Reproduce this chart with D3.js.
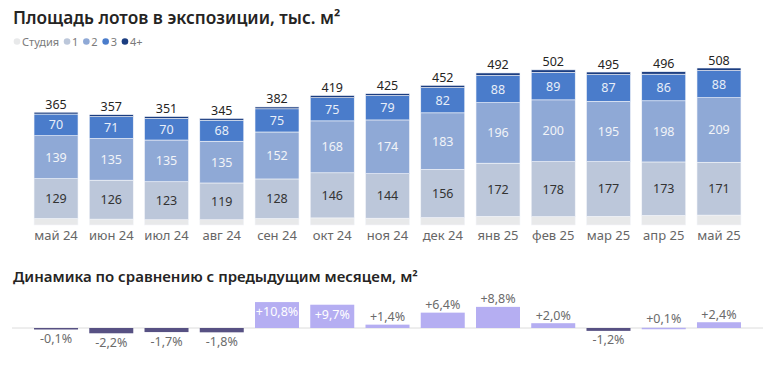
<!DOCTYPE html>
<html><head><meta charset="utf-8">
<script src="https://cdn.jsdelivr.net/npm/d3@7"></script>
<style>
html,body{margin:0;padding:0;background:#fff;}
svg{display:block;font-family:"Segoe UI","Noto Sans","Open Sans",sans-serif;}
</style></head>
<body><svg id="c" width="777" height="372"></svg>
<script>
const months = ["май 24","июн 24","июл 24","авг 24","сен 24","окт 24","ноя 24","дек 24","янв 25","фев 25","мар 25","апр 25","май 25"];
const studio = [21,19,17,17,21,23,22,24,28,27,28,31,32];
const room1 = [129,126,123,119,128,146,144,156,172,178,177,173,171];
const room2 = [139,135,135,135,152,168,174,183,196,200,195,198,209];
const room3 = [70,71,70,68,75,75,79,82,88,89,87,86,88];
const room4 = [6,6,6,6,6,7,6,7,8,8,8,8,8];
const totals = [365,357,351,345,382,419,425,452,492,502,495,496,508];
const change = [-0.1,-2.2,-1.7,-1.8,10.8,9.7,1.4,6.4,8.8,2.0,-1.2,0.1,2.4];
const seriesNames = ["Студия","1","2","3","4+"];
const seriesColors = ["#e8e9ea","#bcc7da","#8fa9d6","#4a7ccb","#1b3d80"];

const svg = d3.select("#c");
const x = d3.scaleBand().domain(months).range([28.5,746.5]).paddingInner(0.2036).paddingOuter(0.1);
const y = d3.scaleLinear().domain([0,520]).range([225,64.3]);

// Title
svg.append("text").attr("x",13).attr("y",24).attr("font-size",17.3).attr("font-weight",600).attr("fill","#252423")
  .text("Площадь лотов в экспозиции, тыс. м²");

// Legend
let lx = 17;
const lg = svg.append("g");
seriesNames.forEach((n,i)=>{
  lg.append("circle").attr("cx",lx).attr("cy",41.5).attr("r",3.3).attr("fill",seriesColors[i]);
  const t = lg.append("text").attr("x",lx+5).attr("y",45.5).attr("font-size",11).attr("fill","#7a7a7a").text(n);
  lx += 5 + t.node().getComputedTextLength() + 8;
});

// Stacked bars
const data = months.map((m,i)=>({m, s0:studio[i], s1:room1[i], s2:room2[i], s3:room3[i], s4:room4[i]}));
const keys = ["s0","s1","s2","s3","s4"];
const stack = d3.stack().keys(keys)(data);
const gb = svg.append("g");
stack.forEach((layer,li)=>{
  gb.selectAll(null).data(layer).join("rect")
    .attr("x",d=>x(d.data.m)).attr("width",x.bandwidth())
    .attr("y",d=>y(d[1])).attr("height",d=>y(d[0])-y(d[1]))
    .attr("fill",seriesColors[li]).attr("stroke","#f4f6fa").attr("stroke-width",0.6);
});
// segment labels
const labColors = {s1:"#333",s2:"#f2f4f8",s3:"#e8eef8"};
[1,2,3].forEach(li=>{
  gb.selectAll(null).data(stack[li]).join("text")
    .attr("x",d=>x(d.data.m)+x.bandwidth()/2).attr("y",d=>(y(d[0])+y(d[1]))/2+4.5)
    .attr("text-anchor","middle").attr("font-size",12.5).attr("fill",labColors[keys[li]])
    .text(d=>d.data[keys[li]]);
});
// totals
gb.selectAll(null).data(months).join("text")
  .attr("x",d=>x(d)+x.bandwidth()/2).attr("y",(d,i)=>y(totals[i])-3.5)
  .attr("text-anchor","middle").attr("font-size",12.5).attr("fill","#252423")
  .text((d,i)=>totals[i]);

// x axis
const xa = svg.append("g").attr("transform","translate(0,227)").call(d3.axisBottom(x).tickSize(0).tickPadding(4));
xa.select(".domain").remove();
xa.selectAll("text").attr("font-size",13).attr("fill","#666").attr("font-family","Segoe UI, Noto Sans, Open Sans, sans-serif");

// Second chart
svg.append("text").attr("x",13).attr("y",282).attr("font-size",15).attr("font-weight",600).attr("fill","#252423")
  .text("Динамика по сравнению с предыдущим месяцем, м²");

const y2 = d3.scaleLinear().domain([-5,11]).range([340,301.6]);
const base = y2(0);
svg.append("line").attr("x1",12).attr("x2",763).attr("y1",base).attr("y2",base).attr("stroke","#dcdcdc").attr("stroke-width",1);
const g2 = svg.append("g");
g2.selectAll(null).data(months).join("rect")
  .attr("x",d=>x(d)).attr("width",x.bandwidth())
  .attr("y",(d,i)=>change[i]>=0 ? y2(change[i]) : base)
  .attr("height",(d,i)=>Math.max(1.5, Math.abs(y2(change[i])-base)))
  .attr("fill",(d,i)=>change[i]>=0 ? "#b5aef2" : "#575183");
const fmt = v => (v>0?"+":"") + v.toFixed(1).replace(".",",") + "%";
g2.selectAll(null).data(months).join("text")
  .attr("x",d=>x(d)+x.bandwidth()/2)
  .attr("y",(d,i)=>{
    const v = change[i];
    if (v>9) return y2(v)+14;
    if (v>=0) return Math.min(y2(v),base-1.5)-3.5;
    return Math.max(y2(v),base+1.5)+13.5;
  })
  .attr("text-anchor","middle").attr("font-size",12.5)
  .attr("fill",(d,i)=>change[i]>9 ? "#ffffff" : "#6b6b6b")
  .text((d,i)=>fmt(change[i]));
</script></body></html>
